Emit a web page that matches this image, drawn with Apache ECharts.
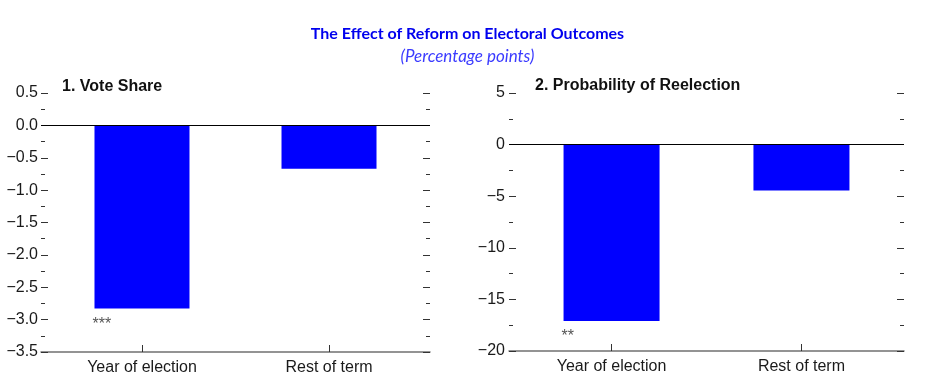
<!DOCTYPE html>
<html>
<head>
<meta charset="utf-8">
<script src="https://cdn.jsdelivr.net/npm/echarts@6/dist/echarts.min.js"></script>
<style>html,body{margin:0;padding:0;background:#fff}#c{width:935px;height:383px}</style>
</head>
<body>
<div id="c"></div>
<script>
const categories = ['Year of election', 'Rest of term'];
const voteShare = [-2.83, -0.67];
const reelection = [-17.1, -4.45];
const voteStars = ['***', ''];
const reelectStars = ['**', ''];
const mainTitle = 'The Effect of Reform on Electoral Outcomes';
const subTitle = '(Percentage points)';
const panelTitles = ['1. Vote Share', '2. Probability of Reelection'];

const minus = s => String(s).replace('-', '\u2212');
const chart = echarts.init(document.getElementById('c'), null, {renderer: 'canvas'});
const TXT = '#1a1a1a';
const FONT = 'Liberation Sans';

function xAxisDef(gi) {
  return {
    type: 'value', gridIndex: gi, min: -0.54, max: 1.54,
    axisLine: {show: true, onZero: false, lineStyle: {color: '#707070', width: 1.5}},
    axisTick: {show: true, inside: true, length: 7, customValues: [0, 1], lineStyle: {color: '#333', width: 1}},
    axisLabel: {show: true, customValues: [0, 1], margin: 8, fontFamily: FONT, fontSize: 16, color: TXT,
      formatter: v => categories[Math.round(v)] || ''},
    splitLine: {show: false}
  };
}
function yAxisDef(gi, min, max, interval, dec, side, margin) {
  const left = side === 'left';
  return {
    type: 'value', gridIndex: gi, min, max, interval, position: side,
    axisLine: {show: false, onZero: false},
    axisTick: {show: true, inside: true, length: 7, lineStyle: {color: '#333', width: 1}},
    minorTick: {show: true, splitNumber: 2, length: 4, lineStyle: {color: '#333', width: 1}},
    axisLabel: {show: left, margin, fontFamily: FONT, fontSize: 16, color: TXT,
      formatter: v => minus(v.toFixed(dec))},
    splitLine: {show: false}
  };
}
function barSeries(xi, yi, vals, stars, bw) {
  return {
    type: 'bar', xAxisIndex: xi, yAxisIndex: yi, barWidth: bw,
    itemStyle: {color: '#0000ff'},
    data: vals.map((v, i) => ({
      value: [i, v],
      label: {show: !!stars[i], formatter: stars[i], position: 'bottom', distance: 8,
        align: 'left', offset: [-bw / 2 - 2, 0],
        fontFamily: FONT, fontSize: 16, color: '#555'}
    })),
    markLine: {silent: true, symbol: 'none', label: {show: false},
      lineStyle: {color: '#000', width: 1, type: 'solid'},
      data: [{yAxis: 0}]},
    animation: false
  };
}

chart.setOption({
  animation: false,
  title: [
    {text: mainTitle, left: 'center', top: 21, textStyle: {fontFamily: 'Lato', fontWeight: 'bold', fontSize: 16, color: '#0000ee'}},
    {text: subTitle, left: 'center', top: 43, textStyle: {fontFamily: 'Lato', fontStyle: 'italic', fontWeight: 'normal', fontSize: 17, color: '#3b3bff'}},
    {text: panelTitles[0], left: 57, top: 74, textStyle: {fontFamily: FONT, fontWeight: 'bold', fontSize: 16, color: '#111'}},
    {text: panelTitles[1], left: 530, top: 73, textStyle: {fontFamily: FONT, fontWeight: 'bold', fontSize: 16, color: '#111'}}
  ],
  grid: [
    {left: 41, right: 505, top: 93, bottom: 31},
    {left: 509, right: 31, top: 93, bottom: 32}
  ],
  xAxis: [xAxisDef(0), xAxisDef(1)],
  yAxis: [
    yAxisDef(0, -3.5, 0.5, 0.5, 1, 'left', 3),
    yAxisDef(0, -3.5, 0.5, 0.5, 1, 'right', 3),
    yAxisDef(1, -20, 5, 5, 0, 'left', 4),
    yAxisDef(1, -20, 5, 5, 0, 'right', 4)
  ],
  series: [
    barSeries(0, 0, voteShare, voteStars, 95),
    barSeries(1, 2, reelection, reelectStars, 96)
  ]
});
</script>
</body>
</html>
